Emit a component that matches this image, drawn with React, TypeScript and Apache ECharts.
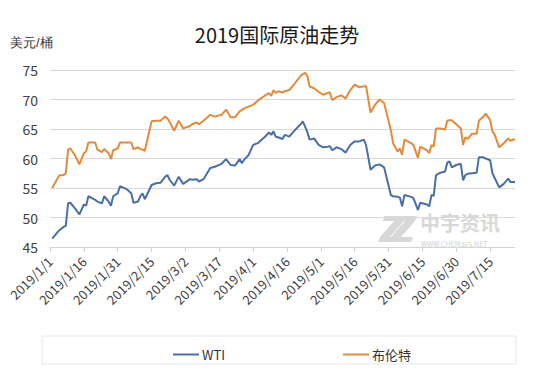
import { useEffect, useRef } from "react";
import * as echarts from "echarts";

const dates = [
  "2019/1/2", "2019/1/5", "2019/1/7", "2019/1/8", "2019/1/9", "2019/1/10", "2019/1/12", "2019/1/14",
  "2019/1/16", "2019/1/17", "2019/1/18", "2019/1/21", "2019/1/22", "2019/1/24", "2019/1/25", "2019/1/27",
  "2019/1/28", "2019/1/29", "2019/1/31", "2019/2/1", "2019/2/4", "2019/2/6", "2019/2/7", "2019/2/9",
  "2019/2/10", "2019/2/11", "2019/2/12", "2019/2/15", "2019/2/17", "2019/2/19", "2019/2/21", "2019/2/22",
  "2019/2/23", "2019/2/25", "2019/2/27", "2019/3/1", "2019/3/4", "2019/3/5", "2019/3/7", "2019/3/8",
  "2019/3/10", "2019/3/13", "2019/3/15", "2019/3/18", "2019/3/20", "2019/3/22", "2019/3/24", "2019/3/26",
  "2019/3/27", "2019/3/28", "2019/3/30", "2019/4/1", "2019/4/3", "2019/4/6", "2019/4/8", "2019/4/9",
  "2019/4/10", "2019/4/11", "2019/4/12", "2019/4/14", "2019/4/15", "2019/4/17", "2019/4/19", "2019/4/22",
  "2019/4/23", "2019/4/24", "2019/4/25", "2019/4/26", "2019/4/28", "2019/4/30", "2019/5/2", "2019/5/4",
  "2019/5/5", "2019/5/6", "2019/5/8", "2019/5/10", "2019/5/12", "2019/5/14", "2019/5/16", "2019/5/18",
  "2019/5/20", "2019/5/21", "2019/5/23", "2019/5/25", "2019/5/27", "2019/5/29", "2019/6/1", "2019/6/2",
  "2019/6/4", "2019/6/5", "2019/6/6", "2019/6/7", "2019/6/10", "2019/6/11", "2019/6/13", "2019/6/14",
  "2019/6/17", "2019/6/18", "2019/6/19", "2019/6/20", "2019/6/21", "2019/6/23", "2019/6/25", "2019/6/26",
  "2019/6/27", "2019/6/28", "2019/6/30", "2019/7/2", "2019/7/3", "2019/7/4", "2019/7/5", "2019/7/7",
  "2019/7/9", "2019/7/10", "2019/7/12", "2019/7/13", "2019/7/15", "2019/7/16", "2019/7/17", "2019/7/19",
  "2019/7/21", "2019/7/23", "2019/7/24", "2019/7/26",
];

const brent = [
  55.0, 57.1, 57.2, 57.5, 61.5, 61.7, 60.6, 59.0,
  60.9, 61.2, 62.7, 62.7, 61.5, 61.1, 61.6, 60.9,
  59.9, 61.4, 61.7, 62.7, 62.7, 62.7, 61.6, 61.9,
  61.6, 61.5, 61.3, 66.3, 66.4, 66.4, 67.1, 66.8,
  66.2, 64.7, 66.4, 65.1, 65.5, 65.8, 66.1, 65.8,
  66.4, 67.4, 67.1, 67.4, 68.3, 67.0, 67.0, 68.0,
  68.2, 68.5, 68.8, 69.1, 69.8, 70.6, 71.1, 70.6,
  71.6, 71.1, 71.4, 71.2, 71.4, 71.6, 72.5, 74.0,
  74.3, 74.5, 74.0, 72.2, 71.9, 71.3, 70.8, 71.1,
  71.2, 69.9, 70.4, 70.7, 70.2, 71.6, 72.5, 72.1,
  72.2, 72.3, 67.8, 69.1, 70.0, 69.4, 64.8, 62.6,
  61.2, 61.7, 60.6, 63.2, 62.6, 62.3, 60.1, 62.0,
  61.4, 60.9, 62.3, 62.0, 65.1, 65.1, 64.9, 66.4,
  66.5, 66.5, 65.8, 65.1, 62.3, 63.6, 63.3, 64.2,
  64.2, 66.4, 67.1, 67.6, 66.5, 64.6, 64.0, 61.9,
  62.6, 63.4, 63.0, 63.3,
];

const wti = [
  46.4, 47.8, 48.4, 48.6, 52.4, 52.5, 51.6, 50.5,
  52.2, 52.0, 53.6, 53.0, 52.7, 52.4, 53.6, 52.7,
  52.0, 53.6, 54.1, 55.3, 54.8, 54.1, 52.5, 52.7,
  53.6, 54.1, 53.1, 55.5, 55.8, 55.9, 56.9, 57.2,
  56.4, 55.4, 56.9, 55.7, 56.5, 56.4, 56.5, 56.1,
  56.5, 58.4, 58.6, 59.1, 59.9, 58.9, 58.8, 59.9,
  59.2, 59.8, 60.6, 62.3, 62.6, 63.6, 64.4, 64.0,
  64.6, 63.7, 63.6, 63.3, 64.0, 63.7, 64.6, 65.8,
  66.3, 65.4, 64.5, 63.2, 63.4, 62.3, 61.9, 62.0,
  62.1, 61.4, 61.9, 61.6, 61.0, 62.3, 62.9, 62.9,
  63.2, 62.3, 58.1, 58.8, 59.0, 58.5, 53.8, 53.6,
  53.5, 53.4, 51.9, 53.8, 53.5, 53.3, 51.3, 52.5,
  52.2, 51.9, 53.8, 53.7, 57.2, 57.6, 57.8, 59.3,
  59.5, 58.5, 58.9, 59.1, 56.3, 57.2, 57.4, 57.5,
  57.6, 60.2, 60.2, 60.0, 59.7, 57.5, 56.7, 55.1,
  55.7, 56.6, 56.0, 56.0,
];

const tickDates = [
  "2019/1/1", "2019/1/16", "2019/1/31", "2019/2/15", "2019/3/2", "2019/3/17", "2019/4/1",
  "2019/4/16", "2019/5/1", "2019/5/16", "2019/5/31", "2019/6/15", "2019/6/30", "2019/7/15",
];

const axisStart = "2019/1/1";
const axisEnd = "2019/7/26";
const yMin = 45;
const yMax = 75;
const yStep = 5;

const seriesNames = ["WTI", "布伦特"];
const titleText = "2019国际原油走势";
const unitText = "美元/桶";

const DAY = 86400000;
function toUTC(s: string) {
  const [y, m, d] = s.split("/").map(Number);
  return Date.UTC(y, m - 1, d);
}
const base = toUTC(axisStart);
function dayOf(s: string) {
  return Math.round((toUTC(s) - base) / DAY);
}
function labelOf(day: number) {
  const dt = new Date(base + Math.round(day) * DAY);
  return `${dt.getUTCFullYear()}/${dt.getUTCMonth() + 1}/${dt.getUTCDate()}`;
}

const FONT = "'Noto Sans CJK SC', 'Noto Sans', sans-serif";

export default function App() {
  const ref = useRef<HTMLDivElement>(null);
  useEffect(() => {
    if (!ref.current) return;
    const chart = echarts.init(ref.current, null, { renderer: "svg" });
    const ticks = tickDates.map(dayOf);
    const zPts = [
      [4, 0], [26, 0], [24, 5], [10, 21], [22, 21], [20, 26], [-2, 26], [0, 21], [14, 5], [3, 5],
    ];
    const legendBase = {
      top: 343,
      icon: "rect",
      itemWidth: 26,
      itemHeight: 2,
      itemGap: 4,
      textStyle: { fontSize: 13, color: "#333", fontFamily: FONT, padding: [0, 0, 0, -2] },
    };
    chart.setOption({
      animation: false,
      backgroundColor: "#ffffff",
      textStyle: { fontFamily: FONT },
      title: {
        text: titleText,
        left: "center",
        top: 19,
        textStyle: { fontSize: 20, fontWeight: "normal", color: "#1a1a1a", fontFamily: FONT },
      },
      grid: { left: 50, right: 39, top: 70, bottom: 126, containLabel: false },
      legend: [
        { ...legendBase, data: [seriesNames[0]], left: 168 },
        { ...legendBase, data: [seriesNames[1]], left: 338 },
      ],
      xAxis: {
        type: "value",
        min: 0,
        max: dayOf(axisEnd),
        axisLine: { show: true, lineStyle: { color: "#d4d4d4", width: 1 } },
        axisTick: { show: true, customValues: ticks, length: 5, lineStyle: { color: "#d4d4d4" } },
        axisLabel: {
          customValues: ticks,
          rotate: 45,
          margin: 12,
          fontSize: 13,
          color: "#404040",
          fontFamily: FONT,
          formatter: (v: number) => labelOf(v),
        },
        splitLine: { show: false },
      },
      yAxis: {
        type: "value",
        min: yMin,
        max: yMax,
        interval: yStep,
        axisLine: { show: false },
        axisTick: { show: false },
        axisLabel: { fontSize: 14, color: "#404040", margin: 12, fontFamily: FONT },
        splitLine: { lineStyle: { color: "#d9d9d9", width: 1 } },
      },
      series: [
        {
          name: seriesNames[0],
          type: "line",
          data: dates.map((d, i) => [dayOf(d), wti[i]]),
          symbol: "none",
          lineStyle: { color: "#4a6fa5", width: 2 },
          itemStyle: { color: "#4a6fa5" },
          z: 3,
        },
        {
          name: seriesNames[1],
          type: "line",
          data: dates.map((d, i) => [dayOf(d), brent[i]]),
          symbol: "none",
          lineStyle: { color: "#e38a3c", width: 2 },
          itemStyle: { color: "#e38a3c" },
          z: 2,
        },
      ],
      graphic: [
        {
          type: "text",
          left: 10,
          top: 36,
          style: { text: unitText, fontSize: 13, fill: "#333", font: `13px ${FONT}` },
        },
        {
          type: "rect",
          shape: { x: 42, y: 336, width: 474, height: 28 },
          style: { fill: "none", stroke: "#e8e8e8", lineWidth: 1 },
          silent: true,
        },
        {
          type: "group",
          x: 380,
          y: 216,
          silent: true,
          children: [
            { type: "polygon", shape: { points: zPts }, style: { fill: "#d8d8d8" } },
            { type: "polygon", x: 11, shape: { points: zPts }, style: { fill: "#d8d8d8" } },
          ],
        },
        {
          type: "text",
          x: 420,
          y: 212,
          silent: true,
          style: { text: "中宇资讯", font: `bold 20px ${FONT}`, fill: "#d8d8d8" },
        },
        {
          type: "text",
          x: 421,
          y: 240,
          silent: true,
          style: { text: "WWW.CHEM365.NET", font: `7px ${FONT}`, fill: "#d0d0d0" },
        },
      ],
    });
    return () => chart.dispose();
  }, []);
  return (
    <div
      ref={ref}
      style={{ position: "fixed", left: 0, top: 0, width: 554, height: 373, background: "#fff" }}
    />
  );
}
